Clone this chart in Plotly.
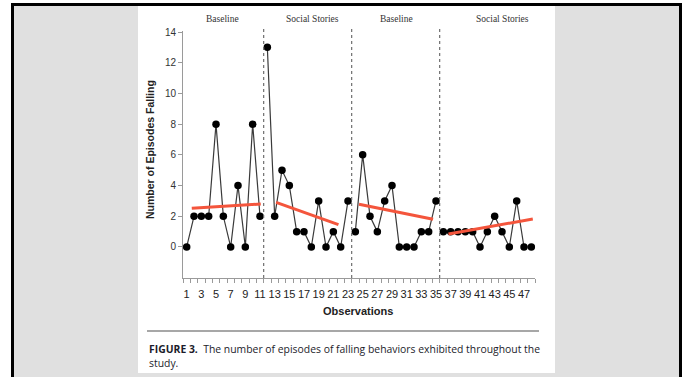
import plotly.graph_objects as go

# ---- data ----
phase_names = ["Baseline", "Social Stories", "Baseline", "Social Stories"]
phase_obs = [list(range(1, 12)), list(range(12, 24)), list(range(24, 36)), list(range(36, 49))]
phase_vals = [
    [0, 2, 2, 2, 8, 2, 0, 4, 0, 8, 2],
    [13, 2, 5, 4, 1, 1, 0, 3, 0, 1, 0, 3],
    [1, 6, 2, 1, 3, 4, 0, 0, 0, 1, 1, 3],
    [1, 1, 1, 1, 1, 0, 1, 2, 1, 0, 3, 0, 0],
]
trend_x = [[1.7, 11.1], [13.2, 21.7], [24.5, 34.6], [36.7, 48.2]]
trend_y = [[2.52, 2.8], [2.9, 1.45], [2.78, 1.8], [0.85, 1.82]]
phase_breaks = [11.5, 23.5, 35.5]
phase_label_x = [5.9, 18.2, 29.6, 44.0]
x_tick_vals = list(range(1, 49, 2))
y_tick_vals = list(range(0, 15, 2))

W, H = 684, 377
ML, MR, MT, MB = 183, 149, 31, 99
PW, PH = W - ML - MR, H - MT - MB


def px(x):
    return (x - ML) / PW


def py(y):
    return (H - MB - y) / PH


fig = go.Figure()

for xs, ys in zip(phase_obs, phase_vals):
    fig.add_trace(go.Scatter(
        x=xs, y=ys, mode="lines+markers",
        line=dict(color="#3a3a3a", width=1.2),
        marker=dict(color="black", size=7.5),
        showlegend=False, cliponaxis=False,
    ))

for tx, ty in zip(trend_x, trend_y):
    fig.add_trace(go.Scatter(
        x=tx, y=ty, mode="lines",
        line=dict(color="#f4553c", width=3),
        showlegend=False,
    ))

shapes = []
# gray background region inside frame
shapes.append(dict(type="rect", xref="paper", yref="paper", layer="below",
                   x0=px(13), x1=px(680), y0=py(378), y1=py(5),
                   fillcolor="#e0e0e0", line=dict(width=0)))
# white panel
shapes.append(dict(type="rect", xref="paper", yref="paper", layer="below",
                   x0=px(138), x1=px(555), y0=py(373), y1=py(5),
                   fillcolor="white", line=dict(width=0)))
# black frame
shapes.append(dict(type="line", xref="paper", yref="paper",
                   x0=px(11), x1=px(682), y0=py(4.5), y1=py(4.5),
                   line=dict(color="black", width=3)))
shapes.append(dict(type="line", xref="paper", yref="paper",
                   x0=px(12.5), x1=px(12.5), y0=py(3), y1=py(380),
                   line=dict(color="black", width=3)))
shapes.append(dict(type="line", xref="paper", yref="paper",
                   x0=px(680.5), x1=px(680.5), y0=py(3), y1=py(380),
                   line=dict(color="black", width=3)))
# caption separator
shapes.append(dict(type="line", xref="paper", yref="paper",
                   x0=px(147), x1=px(539), y0=py(331), y1=py(331),
                   line=dict(color="#8a8a8a", width=1.6)))
# phase change lines
for b in phase_breaks:
    shapes.append(dict(type="line", xref="x", yref="paper",
                       x0=b, x1=b, y0=0, y1=py(26),
                       line=dict(color="#6e6e6e", width=1.2, dash="dot")))

annotations = []
for name, lx in zip(phase_names, phase_label_x):
    annotations.append(dict(x=lx, y=py(19), xref="x", yref="paper", text=name,
                            showarrow=False, xanchor="center", yanchor="middle",
                            font=dict(family="Liberation Serif", size=9.5, color="#333")))
annotations.append(dict(x=px(150), y=py(150), xref="paper", yref="paper",
                        text="<b>Number of Episodes Falling</b>", textangle=-90,
                        showarrow=False, xanchor="center", yanchor="middle",
                        font=dict(family="Liberation Sans", size=10.5, color="#222")))
annotations.append(dict(x=px(358), y=py(311), xref="paper", yref="paper",
                        text="<b>Observations</b>",
                        showarrow=False, xanchor="center", yanchor="middle",
                        font=dict(family="Liberation Sans", size=11, color="#222")))
annotations.append(dict(x=px(147), y=py(349), xref="paper", yref="paper",
                        text="<b>FIGURE 3.</b>  The number of episodes of falling behaviors exhibited throughout the",
                        showarrow=False, xanchor="left", yanchor="middle",
                        font=dict(family="Open Sans", size=10.4, color="#1c1c2a")))
annotations.append(dict(x=px(147), y=py(363), xref="paper", yref="paper",
                        text="study.",
                        showarrow=False, xanchor="left", yanchor="middle",
                        font=dict(family="Open Sans", size=10.4, color="#1c1c2a")))

fig.update_layout(
    width=W, height=H,
    margin=dict(l=ML, r=MR, t=MT, b=MB, pad=0),
    paper_bgcolor="white", plot_bgcolor="rgba(0,0,0,0)",
    shapes=shapes, annotations=annotations,
    xaxis=dict(range=[0.5, 48.5], tickvals=x_tick_vals, ticks="outside", ticklen=6,
               tickcolor="rgba(0,0,0,0)", showline=True, linecolor="#9a9a9a", linewidth=1,
               showgrid=False, zeroline=False,
               tickfont=dict(family="Liberation Sans", size=11, color="#222"),
               minor=dict(tickmode="linear", tick0=0.5, dtick=1, ticks="outside",
                          ticklen=4, tickcolor="#9a9a9a", showgrid=False)),
    yaxis=dict(range=[-2.02, 14.065], tickvals=y_tick_vals, ticks="outside", ticklen=4,
               tickcolor="#9a9a9a", showline=True, linecolor="#9a9a9a", linewidth=1,
               showgrid=False, zeroline=False,
               tickfont=dict(family="Liberation Sans", size=10, color="#333")),
)

fig.write_html("out.html")
